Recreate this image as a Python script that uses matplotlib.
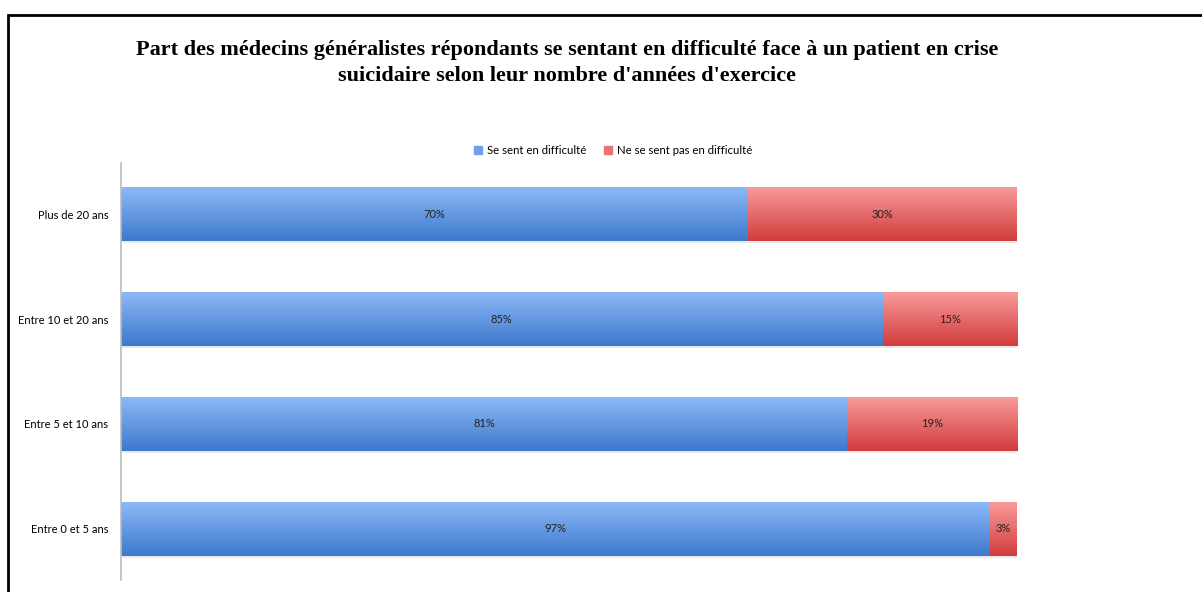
import numpy as np
import matplotlib.pyplot as plt
import matplotlib.patheffects as pe
from matplotlib.colors import LinearSegmentedColormap
from matplotlib.patches import Rectangle

categories = ["Entre 0 et 5 ans", "Entre 5 et 10 ans", "Entre 10 et 20 ans", "Plus de 20 ans"]
en_difficulte = [97, 81, 85, 70]
pas_difficulte = [3, 19, 15, 30]
series_names = ["Se sent en difficulté", "Ne se sent pas en difficulté"]
title = ("Part des médecins généralistes répondants se sentant en difficulté face à un patient en crise\n"
         "suicidaire selon leur nombre d'années d'exercice")

W, H = 1202, 592
fig = plt.figure(figsize=(W / 100, H / 100), dpi=100)
ax = fig.add_axes([121 / W, 1 - 580 / H, (1017 - 121) / W, (580 - 163) / H])

# outer frame (left/top/right edges visible, bottom cut)
fig.patches.append(Rectangle((8 / W, -0.05), 1.2, 1 - 15 / H + 0.05, transform=fig.transFigure,
                             fill=False, edgecolor="black", linewidth=2))

blue_cmap = LinearSegmentedColormap.from_list("b", ["#3d79cc", "#8db8f6"])
red_cmap = LinearSegmentedColormap.from_list("r", ["#d23c3c", "#f89a9a"])
grad = np.linspace(0, 1, 64).reshape(-1, 1)

y = np.arange(len(categories))
shadow = [pe.SimplePatchShadow(offset=(1, -1.5), shadow_rgbFace="#aaaaaa", alpha=0.25), pe.Normal()]
b1 = ax.barh(y, en_difficulte, height=0.515, color="#5f95e0", label=series_names[0],
             path_effects=shadow)
b2 = ax.barh(y, pas_difficulte, left=en_difficulte, height=0.515, color="#e46262",
             label=series_names[1], path_effects=shadow)

for bars, cmap in [(b1, blue_cmap), (b2, red_cmap)]:
    for bar in bars:
        x0, y0 = bar.get_x(), bar.get_y()
        w, h = bar.get_width(), bar.get_height()
        im = ax.imshow(grad, cmap=cmap, origin="lower", aspect="auto",
                       extent=(x0, x0 + w, y0, y0 + h), zorder=bar.get_zorder() + 0.1)
        im.set_clip_path(bar)
        ax.text(x0 + w / 2, y0 + h / 2, f"{w:.0f}%", ha="center", va="center",
                fontsize=8, color="#222222", zorder=5, family="Lato")

ax.set_xlim(0, 100)
ax.set_ylim(-0.49, 3.49)
ax.set_yticks(y)
ax.set_yticklabels(categories, fontsize=8, family="Lato")
ax.tick_params(axis="y", length=0, pad=9)
ax.set_xticks([])
for s in ["top", "right", "bottom"]:
    ax.spines[s].set_visible(False)
ax.spines["left"].set_color("#bbbbbb")
ax.spines["left"].set_linewidth(1.2)

fig.text(567 / W, 1 - 63 / H, title, ha="center", va="center", fontsize=16,
         fontweight="bold", family="Liberation Serif", linespacing=1.4)

leg = fig.legend(handles=[Rectangle((0, 0), 1, 1, color="#6fa0e8"),
                          Rectangle((0, 0), 1, 1, color="#ea7373")],
                 labels=series_names, loc="center", bbox_to_anchor=(613 / W, 1 - 150 / H),
                 ncol=2, frameon=False, prop={"family": "Lato", "size": 8.2},
                 handlelength=0.7, handleheight=0.7, handletextpad=0.4, columnspacing=1.6)

fig.savefig("out.png", dpi=100)
